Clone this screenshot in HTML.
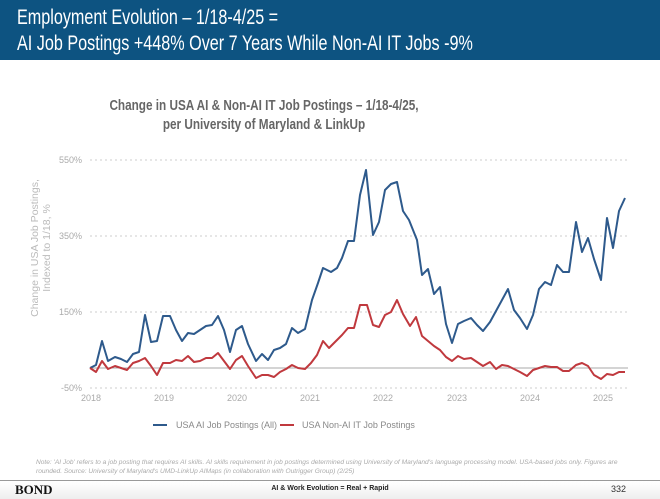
<!DOCTYPE html>
<html><head><meta charset="utf-8"><style>
*{margin:0;padding:0}
body{width:660px;height:498px;background:#fff;font-family:"Liberation Sans",sans-serif;position:relative;overflow:hidden}
.hdr{position:absolute;left:0;top:0;width:660px;height:60px;background:#0d5381}
.hdr div{position:absolute;left:17px;top:5px;color:#fff;font-size:21px;line-height:26px;white-space:nowrap;transform:scaleX(0.77);transform-origin:0 0}
.t{position:absolute;left:-66px;width:660px;text-align:center;color:#666;font-weight:bold;font-size:14.5px;line-height:19px;top:97px;transform:scaleX(0.81);transform-origin:330px 0}
.note{position:absolute;left:36px;top:459px;width:600px;font-size:6.6px;color:#aaa;font-style:italic;line-height:8.5px}
.foot{position:absolute;left:0;top:480px;width:660px;height:18px;border-top:1.5px solid #999;background:linear-gradient(#fff,#eee)}
</style></head><body>
<div class="hdr"><div>Employment Evolution – 1/18-4/25 =<br>AI Job Postings +448% Over 7 Years While Non-AI IT Jobs -9%</div></div>
<div class="t">Change in USA AI &amp; Non-AI IT Job Postings – 1/18-4/25,<br>per University of Maryland &amp; LinkUp</div>
<svg width="660" height="498" style="position:absolute;left:0;top:0" font-family="Liberation Sans,sans-serif">
<g stroke="#ccc" stroke-dasharray="2,3" stroke-width="1">
<line x1="90" x2="628" y1="160" y2="160"/><line x1="90" x2="628" y1="236" y2="236"/><line x1="90" x2="628" y1="312" y2="312"/><line x1="90" x2="628" y1="388" y2="388"/></g>
<line x1="90" x2="628" y1="368" y2="368" stroke="#aaa" stroke-width="1"/>
<g fill="#aaa" font-size="9" text-anchor="end"><text x="82" y="163">550%</text><text x="82" y="239">350%</text><text x="82" y="315">150%</text><text x="82" y="391">-50%</text></g>
<g fill="#aaa" font-size="9" text-anchor="middle"><text x="91" y="401">2018</text><text x="164" y="401">2019</text><text x="237" y="401">2020</text><text x="310" y="401">2021</text><text x="383" y="401">2022</text><text x="457" y="401">2023</text><text x="530" y="401">2024</text><text x="603" y="401">2025</text></g>
<text transform="translate(38,248) rotate(-90)" fill="#bbb" font-size="10.5" text-anchor="middle"><tspan x="0" y="0">Change in USA Job Postings,</tspan><tspan x="0" y="12">Indexed to 1/18, %</tspan></text>
<polyline fill="none" stroke="#2e5a8c" stroke-width="2" stroke-linejoin="round" points="90,368 96,365 102,341 108,361 115,357 121,359 127,362 133,354 139,352 145,315 151,342 157,341 163,316 170,316 176,330 182,341 188,333 194,334 200,330 206,326 212,325 218,316 224,330 230,352 236,330 242,326 248,344 256,361 262,354 268,360 274,350 280,348 286,344 292,328 298,333 305,329 312,300 318,283 323,268 331,272 337,268 342,258 348,241 354,241 360,195 366,170 373,235 379,222 385,190 391,184 397,182 403,211 409,220 413,230 417,240 422,275 428,269 434,294 440,287 446,324 452,343 458,324 464,321 471,318 477,325 483,331 490,322 496,311 502,300 508,289 514,310 520,318 527,329 533,315 539,289 545,282 551,285 557,265 563,272 569,272 576,222 582,252 588,238 594,259 601,280 607,218 613,248 619,211 625,198"/>
<polyline fill="none" stroke="#c0393e" stroke-width="2" stroke-linejoin="round" points="90,368 96,372 102,361 108,369 115,366 121,368 127,370 133,363 139,361 145,358 151,366 157,375 163,363 170,363 176,360 182,361 188,356 194,362 200,361 206,358 212,358 218,353 224,361 230,369 236,360 242,356 248,366 256,378 262,375 268,375 274,377 280,372 286,369 292,365 298,368 305,369 311,363 317,355 323,341 329,348 337,340 342,335 348,328 354,328 360,305 367,305 373,325 379,327 385,315 391,312 397,300 403,314 410,326 416,317 422,336 428,341 434,346 440,350 446,357 452,361 458,356 464,359 471,358 477,362 483,366 490,362 496,369 502,365 508,366 514,369 520,372 527,376 533,370 539,368 545,366 551,367 557,367 563,371 569,371 576,365 582,363 588,366 594,375 601,379 607,374 613,375 619,372 625,372"/>
<line x1="153" x2="167" y1="425" y2="425" stroke="#2e5a8c" stroke-width="2"/>
<text x="176" y="428" fill="#888" font-size="9">USA AI Job Postings (All)</text>
<line x1="280" x2="294" y1="425" y2="425" stroke="#c0393e" stroke-width="2"/>
<text x="302" y="428" fill="#888" font-size="9">USA Non-AI IT Job Postings</text>
</svg>
<div class="note">Note: 'AI Job' refers to a job posting that requires AI skills. AI skills requirement in job postings determined using University of Maryland's language processing model. USA-based jobs only. Figures are rounded. Source: University of Maryland's UMD-LinkUp AIMaps (in collaboration with Outrigger Group) (2/25)</div>
<div class="foot">
<span style="position:absolute;left:15px;top:1px;font-family:'Liberation Serif',serif;font-weight:bold;font-size:13px;color:#111">BOND</span>
<span style="position:absolute;left:0;width:660px;text-align:center;top:4px;font-size:7px;font-weight:bold;color:#222">AI &amp; Work Evolution = Real + Rapid</span>
<span style="position:absolute;left:611px;top:3px;font-size:9px;color:#333">332</span>
</div>
</body></html>
